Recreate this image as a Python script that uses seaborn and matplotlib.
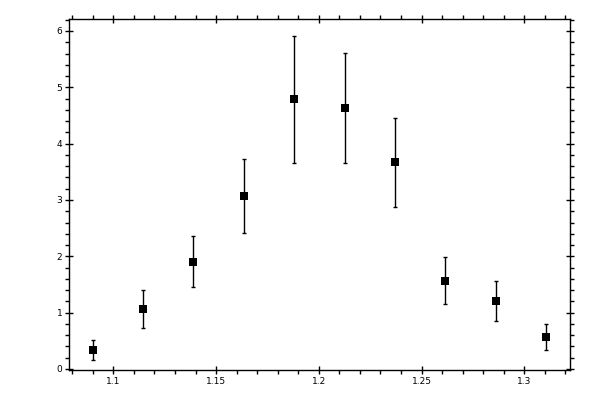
import numpy as np
import pandas as pd
import seaborn as sns
import matplotlib
matplotlib.use("Agg")
import matplotlib.pyplot as plt
from matplotlib.ticker import MultipleLocator, FormatStrFormatter

# values
x_vals = [1.090, 1.1145, 1.139, 1.1635, 1.188, 1.2125, 1.237, 1.2615, 1.286, 1.3105]
y_vals = [0.34, 1.06, 1.895, 3.07, 4.79, 4.63, 3.67, 1.56, 1.20, 0.565]
y_upper = [0.51, 1.40, 2.36, 3.72, 5.91, 5.61, 4.46, 1.98, 1.56, 0.79]
y_lower = [0.16, 0.72, 1.45, 2.41, 3.65, 3.65, 2.87, 1.15, 0.85, 0.33]

df = pd.DataFrame({"x": x_vals, "y": y_vals, "hi": y_upper, "lo": y_lower})
err_low = df["y"] - df["lo"]
err_high = df["hi"] - df["y"]

sns.set_style("ticks")
plt.rcParams["font.family"] = ["DejaVu Sans"]

fig = plt.figure(figsize=(6, 4), dpi=100)
ax = fig.add_axes([0.1155, 0.075, 0.8345, 0.8768])

ax.errorbar(df["x"], df["y"], yerr=[err_low, err_high], fmt="none",
            ecolor="black", elinewidth=1.0, capsize=1.7, capthick=1.0)
sns.scatterplot(data=df, x="x", y="y", marker="s", s=34, color="black",
                edgecolor="black", linewidth=0, ax=ax, zorder=3)

ax.set_xlim(1.0786, 1.3222)
ax.set_ylim(-0.018, 6.208)
ax.set_xlabel("")
ax.set_ylabel("")

ax.xaxis.set_major_locator(MultipleLocator(0.05))
ax.xaxis.set_minor_locator(MultipleLocator(0.01))
ax.yaxis.set_major_locator(MultipleLocator(1))
ax.yaxis.set_minor_locator(MultipleLocator(0.2))
ax.xaxis.set_major_formatter(FormatStrFormatter("%g"))
ax.yaxis.set_major_formatter(FormatStrFormatter("%g"))

for side in ["top", "right", "left", "bottom"]:
    ax.spines[side].set_visible(True)
    ax.spines[side].set_linewidth(1.0)
    ax.spines[side].set_color("black")

ax.tick_params(which="major", direction="inout", length=6, width=1.0,
               color="black", labelcolor="black",
               top=True, right=True, labelsize=6.5, pad=2)
ax.tick_params(which="minor", direction="out", length=2.6, width=1.0,
               color="black", top=True, right=True)

fig.savefig("out.png", dpi=100)
